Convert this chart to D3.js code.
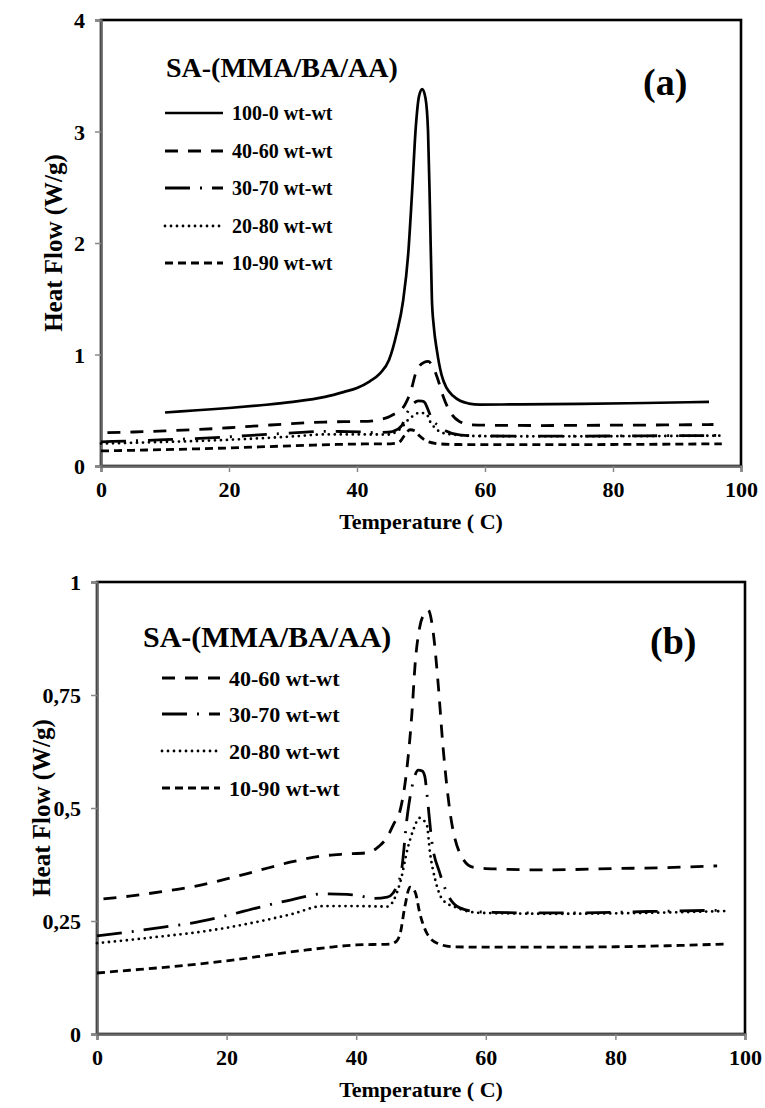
<!DOCTYPE html>
<html>
<head>
<meta charset="utf-8">
<script src="https://cdn.jsdelivr.net/npm/d3@7"></script>
<style>
  body { margin: 0; background: #fff; }
  text { font-family: "Liberation Serif", "Times New Roman", serif; font-weight: bold; fill: #000; }
</style>
</head>
<body>
<script>
const width = 765;
const height = 1108;

// x ticks (temperature) and y ticks of both panels
const tempTicks = [0, 20, 40, 60, 80, 100];
const heatTicksA = [0, 1, 2, 3, 4];
const heatTicksB = [0, 0.25, 0.5, 0.75, 1];

const seriesNames = ["100-0 wt-wt", "40-60 wt-wt", "30-70 wt-wt", "20-80 wt-wt", "10-90 wt-wt"];

// 100-0
const t100 = [10, 15, 20, 25, 30, 35, 38, 40, 42, 43.6, 45, 46.2, 47.2, 48, 48.6, 49.2, 49.7, 50.2, 50.7, 51.1, 51.4, 51.7, 52, 52.5, 53.2, 54, 55, 56.1, 57.5, 59.2, 65, 75, 85, 95];
const h100 = [0.48, 0.50, 0.52, 0.545, 0.575, 0.62, 0.665, 0.70, 0.76, 0.83, 0.95, 1.19, 1.48, 1.9, 2.45, 3.05, 3.32, 3.38, 3.3, 3.0, 2.3, 1.5, 1.25, 1.03, 0.82, 0.70, 0.63, 0.585, 0.56, 0.55, 0.553, 0.557, 0.565, 0.575];

// 40-60
const t4060 = [1, 5, 10, 14.4, 20, 25, 29.8, 34.9, 38, 41.7, 43.5, 44.8, 45.8, 46.8, 47.8, 48.6, 49.1, 49.8, 50.5, 51.1, 51.9, 52.6, 53.4, 54.5, 56, 58, 61.7, 68.4, 80, 90, 95.7];
const h4060 = [0.299, 0.305, 0.315, 0.325, 0.343, 0.362, 0.38, 0.394, 0.398, 0.401, 0.415, 0.436, 0.465, 0.496, 0.584, 0.71, 0.82, 0.90, 0.93, 0.938, 0.887, 0.783, 0.635, 0.489, 0.40, 0.369, 0.365, 0.363, 0.366, 0.369, 0.372];

// 30-70
const t3070 = [0, 5, 10, 14.4, 20, 24.7, 30, 34.9, 38.6, 40.5, 42.6, 44.8, 45.7, 47, 47.8, 48.6, 49.6, 50.2, 50.6, 50.9, 51.7, 52.9, 54, 56, 59.1, 66.8, 73.5, 85, 97];
const h3070 = [0.217, 0.226, 0.236, 0.245, 0.262, 0.279, 0.297, 0.31, 0.309, 0.306, 0.30, 0.303, 0.312, 0.363, 0.473, 0.546, 0.584, 0.582, 0.569, 0.533, 0.423, 0.356, 0.312, 0.279, 0.27, 0.268, 0.268, 0.271, 0.274];

// 20-80
const t2080 = [0, 5, 10, 14.4, 20, 24.7, 30, 34.9, 40, 44.8, 46.8, 48, 48.8, 49.8, 50.9, 51.4, 52.2, 53.4, 55.6, 59, 70, 85, 97];
const h2080 = [0.201, 0.208, 0.216, 0.223, 0.235, 0.248, 0.265, 0.283, 0.283, 0.282, 0.336, 0.414, 0.451, 0.478, 0.462, 0.40, 0.341, 0.296, 0.279, 0.268, 0.266, 0.268, 0.272];

// 10-90
const t1090 = [0, 5, 10, 14.4, 20, 24.7, 28, 32.4, 36, 40, 45.2, 46.2, 46.8, 47.5, 48.3, 49.1, 49.8, 50.9, 52.5, 54.9, 60, 70, 80, 90, 97];
const h1090 = [0.135, 0.141, 0.147, 0.153, 0.162, 0.171, 0.178, 0.186, 0.192, 0.197, 0.199, 0.205, 0.223, 0.281, 0.325, 0.314, 0.268, 0.223, 0.201, 0.193, 0.192, 0.192, 0.193, 0.196, 0.199];

const lineStyles = {
    "100-0 wt-wt": {dash: null, cap: "butt", w: 2.7},
    "40-60 wt-wt": {dash: "13,10", cap: "butt", w: 2.8},
    "30-70 wt-wt": {dash: "25,10,2,10", cap: "butt", w: 2.8},
    "20-80 wt-wt": {dash: "0,6", cap: "round", w: 2.8},
    "10-90 wt-wt": {dash: "8,5", cap: "butt", w: 2.8}
};

function zipSeries(name, ts, hs){
    let pts = [];
    for (let i = 0; i < ts.length; i++){
        pts.push({"t": ts[i], "h": hs[i]});
    }
    return {"name": name, "points": pts};
}

const allSeries = [
    zipSeries(seriesNames[0], t100, h100),
    zipSeries(seriesNames[1], t4060, h4060),
    zipSeries(seriesNames[2], t3070, h3070),
    zipSeries(seriesNames[3], t2080, h2080),
    zipSeries(seriesNames[4], t1090, h1090)
];

const svg = d3.select("body").append("svg")
    .attr("width", width)
    .attr("height", height);

function fmt(v){
    return String(v).replace(".", ",");
}

function drawPanel(opt){
    let scaleX = d3.scaleLinear().domain([0, 100]).range([opt.left, opt.right]);
    let scaleY = d3.scaleLinear().domain([0, opt.yMax]).range([opt.bottom, opt.top]);

    let g = svg.append("g");

    // black frame of the plot area
    g.append("rect")
        .attr("x", opt.left).attr("y", opt.top)
        .attr("width", opt.right - opt.left).attr("height", opt.bottom - opt.top)
        .attr("fill", "none").attr("stroke", "#000").attr("stroke-width", 2.6);

    let xAxis = g.append("g")
        .attr("transform", "translate(0," + opt.bottom + ")")
        .call(d3.axisBottom(scaleX).tickValues(tempTicks).tickSize(6).tickFormat(d3.format("d")));
    let yAxis = g.append("g")
        .attr("transform", "translate(" + opt.left + ",0)")
        .call(d3.axisLeft(scaleY).tickValues(opt.yTicks).tickSize(6).tickFormat(fmt));

    for (let ax of [xAxis, yAxis]){
        ax.attr("font-family", null).attr("font-size", null);
        ax.select(".domain").attr("stroke", "#666").attr("stroke-width", 2.4);
        ax.selectAll(".tick line").attr("stroke", "#888").attr("stroke-width", 1.5);
        ax.selectAll(".tick text")
            .style("font-family", "'Liberation Serif', serif")
            .style("font-weight", "bold")
            .style("font-size", opt.tickFont + "px")
            .attr("fill", "#000");
    }
    xAxis.selectAll(".tick text").attr("dy", null).attr("y", 31);
    yAxis.selectAll(".tick text").attr("x", -16).attr("dy", "0.35em");

    let line = d3.line()
        .x(function(d){ return scaleX(d.t); })
        .y(function(d){ return scaleY(d.h); })
        .curve(d3.curveMonotoneX);

    g.selectAll(".curve")
        .data(opt.series)
        .enter().append("path")
        .attr("class", "curve")
        .attr("d", function(d){ return line(d.points); })
        .attr("fill", "none")
        .attr("stroke", "#000")
        .attr("stroke-width", function(d){ return lineStyles[d.name].w; })
        .attr("stroke-linecap", function(d){ return lineStyles[d.name].cap; })
        .attr("stroke-dasharray", function(d){ return lineStyles[d.name].dash; });

    // axis titles
    g.append("text")
        .attr("x", (opt.left + opt.right) / 2)
        .attr("y", opt.bottom + opt.xTitleDy)
        .attr("text-anchor", "middle")
        .style("font-size", opt.titleFont + "px")
        .text("Temperature (  C)");
    g.append("text")
        .attr("transform", "translate(" + opt.yTitleX + "," + ((opt.top + opt.bottom) / 2) + ") rotate(-90)")
        .attr("text-anchor", "middle")
        .style("font-size", opt.yTitleFont + "px")
        .text("Heat Flow (W/g)");

    // legend
    g.append("text")
        .attr("x", opt.legX)
        .attr("y", opt.legTitleY)
        .style("font-size", opt.legTitleFont + "px")
        .text("SA-(MMA/BA/AA)");

    let items = g.selectAll(".leg")
        .data(opt.series)
        .enter().append("g")
        .attr("class", "leg")
        .attr("transform", function(d, i){ return "translate(0," + opt.legRows[i] + ")"; });
    items.append("line")
        .attr("x1", opt.legLineX).attr("x2", opt.legLineX + 58)
        .attr("stroke", "#000")
        .attr("stroke-width", function(d){ return lineStyles[d.name].w; })
        .attr("stroke-linecap", function(d){ return lineStyles[d.name].cap; })
        .attr("stroke-dasharray", function(d){ return lineStyles[d.name].dash; });
    items.append("text")
        .attr("x", opt.legLineX + 67)
        .attr("dy", "0.35em")
        .style("font-size", opt.legFont + "px")
        .text(function(d){ return d.name; });

    g.append("text")
        .attr("x", opt.tagX)
        .attr("y", opt.tagY)
        .style("font-size", opt.tagFont + "px")
        .text(opt.tag);
}

drawPanel({
    left: 101, right: 741, top: 20, bottom: 466, yMax: 4,
    yTicks: heatTicksA, series: allSeries,
    tickFont: 22, titleFont: 22, yTitleFont: 25, xTitleDy: 63, yTitleX: 62,
    legX: 166, legTitleY: 77, legTitleFont: 28,
    legLineX: 165, legRows: [113, 151, 188, 226, 263], legFont: 20,
    tag: "(a)", tagX: 643, tagY: 95, tagFont: 38
});

drawPanel({
    left: 97, right: 745, top: 582, bottom: 1034, yMax: 1,
    yTicks: heatTicksB, series: allSeries.slice(1),
    tickFont: 22, titleFont: 22, yTitleFont: 25, xTitleDy: 63, yTitleX: 50,
    legX: 143, legTitleY: 647, legTitleFont: 30,
    legLineX: 162, legRows: [678, 714, 751, 788], legFont: 22,
    tag: "(b)", tagX: 650, tagY: 654, tagFont: 38
});
</script>
</body>
</html>
